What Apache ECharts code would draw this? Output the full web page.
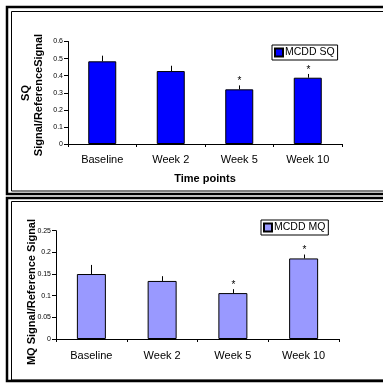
<!DOCTYPE html>
<html><head><meta charset="utf-8">
<script src="https://cdn.jsdelivr.net/npm/echarts@6/dist/echarts.min.js"></script>
<style>html,body{margin:0;padding:0;background:#fff}#c{width:383px;height:383px}</style>
</head><body><div id="c"></div>
<script>
const categories = ['Baseline', 'Week 2', 'Week 5', 'Week 10'];
const sqValues = [0.484, 0.427, 0.320, 0.388];
const sqErrors = [0.033, 0.031, 0.023, 0.022];
const mqValues = [0.150, 0.134, 0.106, 0.186];
const mqErrors = [0.021, 0.011, 0.009, 0.009];
const significant = [false, false, true, true];
const sqTicks = [0, 0.1, 0.2, 0.3, 0.4, 0.5, 0.6];
const mqTicks = [0, 0.05, 0.1, 0.15, 0.2, 0.25];

const F = 'Liberation Sans, Arial, sans-serif';
const chart = echarts.init(document.getElementById('c'), null, {renderer: 'canvas'});

function errRender(params, api) {
  const i = api.value(0), v = api.value(1), e = api.value(2), s = api.value(3);
  const p0 = api.coord([i, v]), p1 = api.coord([i, v + e]);
  const x = Math.round(p0[0]) + 0.5;
  const children = [{type: 'line', shape: {x1: x, y1: p0[1], x2: x, y2: p1[1]}, style: {stroke: '#000', lineWidth: 1}}];
  if (s) children.push({type: 'text', style: {text: '*', x: x, y: p1[1] - 4, align: 'center', verticalAlign: 'middle', font: '10px ' + F, fill: '#000'}});
  return {type: 'group', children: children};
}

function xAx(grid, labelMargin, name) {
  return {gridIndex: grid, type: 'category', data: categories,
    axisLine: {lineStyle: {color: '#000', width: 1}},
    axisTick: {show: true, length: 3, lineStyle: {color: '#000'}},
    axisLabel: {color: '#000', fontSize: 11, margin: labelMargin, fontFamily: F},
    name: name, nameLocation: 'middle', nameGap: 29,
    nameTextStyle: {color: '#000', fontWeight: 'bold', fontSize: 11, fontFamily: F}};
}
function yAx(grid, ticks) {
  return {gridIndex: grid, type: 'value', min: ticks[0], max: ticks[ticks.length - 1], interval: ticks[1] - ticks[0],
    axisLine: {show: true, lineStyle: {color: '#000'}},
    axisTick: {show: true, length: 4, lineStyle: {color: '#000'}},
    splitLine: {show: false},
    axisLabel: {fontSize: 7, color: '#000', margin: 5, fontFamily: F}};
}
function legendCfg(name, left, top) {
  return {data: [name], left: left, top: top, padding: [2, 3, 2, 2], borderColor: '#000', borderWidth: 1,
    backgroundColor: '#fff', itemWidth: 8, itemHeight: 8, icon: 'rect', selectedMode: false,
    textStyle: {fontSize: 10.5, color: '#000', fontFamily: F, padding: [0, 0, 0, -3]}};
}
function errData(vals, errs) {
  return categories.map((c, i) => [i, vals[i], errs[i], significant[i] ? 1 : 0]);
}

chart.setOption({
  animation: false,
  backgroundColor: '#fff',
  textStyle: {fontFamily: F},
  grid: [
    {left: 68, right: 41, top: 41.5, bottom: 239},
    {left: 56, right: 44, top: 230.7, bottom: 44}
  ],
  xAxis: [xAx(0, 10, 'Time points'), xAx(1, 11, '')],
  yAxis: [yAx(0, sqTicks), yAx(1, mqTicks)],
  legend: [legendCfg('MCDD SQ', 272, 45), legendCfg('MCDD MQ', 261, 220)],
  series: [
    {name: 'MCDD SQ', type: 'bar', xAxisIndex: 0, yAxisIndex: 0, data: sqValues, barWidth: 28,
      itemStyle: {color: '#0000ff', borderColor: '#000', borderWidth: 1}},
    {type: 'custom', xAxisIndex: 0, yAxisIndex: 0, data: errData(sqValues, sqErrors), renderItem: errRender, z: 3, silent: true},
    {name: 'MCDD MQ', type: 'bar', xAxisIndex: 1, yAxisIndex: 1, data: mqValues, barWidth: 29,
      itemStyle: {color: '#9999ff', borderColor: '#000', borderWidth: 1}},
    {type: 'custom', xAxisIndex: 1, yAxisIndex: 1, data: errData(mqValues, mqErrors), renderItem: errRender, z: 3, silent: true}
  ],
  graphic: [
    {type: 'rect', shape: {x: 7, y: 7, width: 420, height: 187}, style: {fill: 'none', stroke: '#000', lineWidth: 2.5}, silent: true},
    {type: 'rect', shape: {x: 11.5, y: 11.5, width: 420, height: 179.5}, style: {fill: 'none', stroke: '#000', lineWidth: 1}, silent: true},
    {type: 'rect', shape: {x: 7, y: 198, width: 420, height: 183}, style: {fill: 'none', stroke: '#000', lineWidth: 2.5}, silent: true},
    {type: 'rect', shape: {x: 11.5, y: 201.5, width: 420, height: 178.5}, style: {fill: 'none', stroke: '#000', lineWidth: 1}, silent: true},
    {type: 'text', x: 25.5, y: 93, rotation: Math.PI / 2, style: {text: 'SQ', align: 'center', verticalAlign: 'middle', font: 'bold 11px ' + F, fill: '#000'}},
    {type: 'text', x: 38.5, y: 95, rotation: Math.PI / 2, style: {text: 'Signal/ReferenceSignal', align: 'center', verticalAlign: 'middle', font: 'bold 11px ' + F, fill: '#000'}},
    {type: 'text', x: 32, y: 292, rotation: Math.PI / 2, style: {text: 'MQ Signal/Reference Signal', align: 'center', verticalAlign: 'middle', font: 'bold 11px ' + F, fill: '#000'}}
  ]
});
</script>
</body></html>
